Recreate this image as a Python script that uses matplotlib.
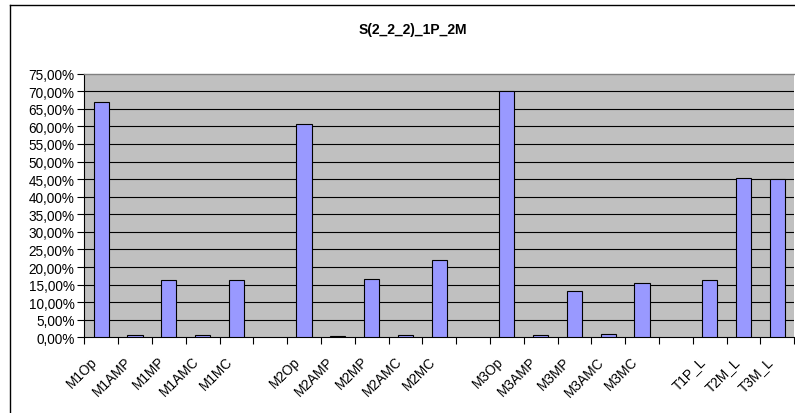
import matplotlib
matplotlib.use("Agg")
import matplotlib.pyplot as plt
from matplotlib.lines import Line2D
from matplotlib.ticker import FuncFormatter, MultipleLocator
from matplotlib.transforms import ScaledTranslation
import numpy as np

plt.rcParams['font.family'] = ['Liberation Sans', 'DejaVu Sans']

title = "S(2_2_2)_1P_2M"
categories = ["M1Op", "M1AMP", "M1MP", "M1AMC", "M1MC", "",
              "M2Op", "M2AMP", "M2MP", "M2AMC", "M2MC", "",
              "M3Op", "M3AMP", "M3MP", "M3AMC", "M3MC", "",
              "T1P_L", "T2M_L", "T3M_L"]
values = [66.9, 0.7, 16.2, 0.7, 16.2, None,
          60.8, 0.3, 16.5, 0.6, 21.9, None,
          70.0, 0.7, 13.1, 1.0, 15.5, None,
          16.2, 45.3, 45.0]

W, H = 795, 414
fig = plt.figure(figsize=(W / 100, H / 100), dpi=100)
fig.patch.set_facecolor("white")

# outer chart frame (top and left edges visible)
fig.add_artist(Line2D([10 / W, 1.0], [1 - 6 / H, 1 - 6 / H], color="black", lw=1.0))
fig.add_artist(Line2D([10 / W, 10 / W], [0.0, 1 - 6 / H], color="black", lw=1.0))

left, right = 84.3, 84.3 + 33.8 * len(categories)
bottom, top = 338.3, 74.7
ax = fig.add_axes([left / W, (H - bottom) / H, (right - left) / W, (bottom - top) / H])
ax.set_facecolor("#C0C0C0")

x = np.arange(len(categories))
heights = [v if v is not None else 0 for v in values]
mask = [v is not None for v in values]
ax.bar(x[mask], np.array(heights)[mask], width=0.45, color="#9999FF",
       edgecolor="black", linewidth=0.8, zorder=3)

ax.set_xlim(-0.5, len(categories) - 0.5)
ax.set_ylim(0, 75)

ax.yaxis.set_major_locator(MultipleLocator(5))
ax.yaxis.set_major_formatter(FuncFormatter(lambda v, p: f"{v:.2f}".replace(".", ",") + "%"))
for yv in range(5, 75, 5):
    ax.axhline(yv, color="black", lw=0.8, zorder=1)

# category boundaries carry the tick marks, centres carry the labels
ax.set_xticks(np.arange(len(categories) + 1) - 0.5)
ax.set_xticklabels([])
ax.set_xticks(x, minor=True)
ax.set_xticklabels(categories, minor=True, rotation=45, ha="right", va="center",
                   rotation_mode="anchor", fontsize=9.8)
ax.tick_params(axis="x", which="minor", length=0, pad=15.5)
ax.tick_params(axis="x", which="major", length=5, width=0.8, color="black", direction="out")
ax.tick_params(axis="y", length=5, width=0.8, direction="out", labelsize=9.8, pad=2)
shift = ScaledTranslation(-0.06, 0, fig.dpi_scale_trans)
for lab in ax.get_xticklabels(minor=True):
    lab.set_transform(lab.get_transform() + shift)

for side in ("top", "right"):
    ax.spines[side].set_color("#808080")
    ax.spines[side].set_linewidth(1.0)
ax.spines["right"].set_visible(False)
for side in ("left", "bottom"):
    ax.spines[side].set_color("black")
    ax.spines[side].set_linewidth(0.8)

fig.text(412.5 / W, 1 - 30 / H, title, ha="center", va="center",
         fontsize=10, fontweight="bold")

fig.savefig("out.png", dpi=100, facecolor="white")
